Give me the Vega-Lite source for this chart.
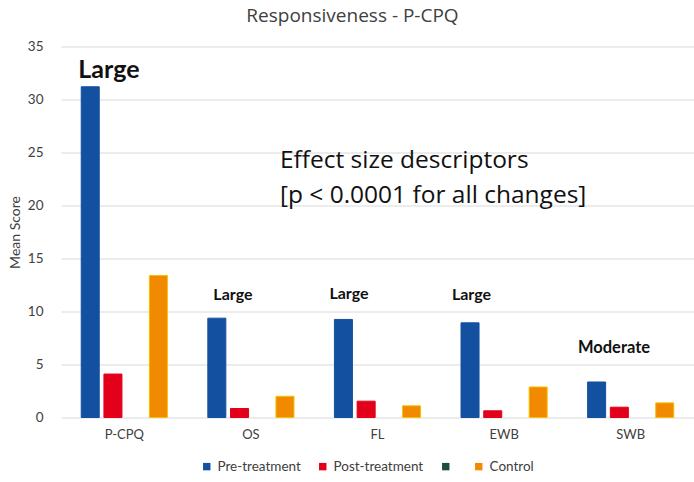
{
  "$schema": "https://vega.github.io/schema/vega-lite/v6.json",
  "width": 633,
  "height": 371,
  "autosize": {"type": "none"},
  "padding": {"left": 61, "top": 46.5, "right": 0, "bottom": 64.5},
  "background": "white",
  "config": {"font": "Lato", "view": {"stroke": null}},
  "title": {"text": "Responsiveness - P-CPQ", "font": "Open Sans", "fontSize": 19, "fontWeight": "normal", "color": "#404040", "anchor": "middle", "baseline": "alphabetic", "offset": -1, "dx": -25},
  "layer": [
    {
      "data": {"values": [
        {"cat": "P-CPQ", "series": "Pre-treatment", "score": 31.2},
        {"cat": "P-CPQ", "series": "Post-treatment", "score": 4.1},
        {"cat": "P-CPQ", "series": "Control", "score": 13.4},
        {"cat": "OS", "series": "Pre-treatment", "score": 9.37},
        {"cat": "OS", "series": "Post-treatment", "score": 0.85},
        {"cat": "OS", "series": "Control", "score": 2.0},
        {"cat": "FL", "series": "Pre-treatment", "score": 9.25},
        {"cat": "FL", "series": "Post-treatment", "score": 1.54},
        {"cat": "FL", "series": "Control", "score": 1.1},
        {"cat": "EWB", "series": "Pre-treatment", "score": 8.93},
        {"cat": "EWB", "series": "Post-treatment", "score": 0.63},
        {"cat": "EWB", "series": "Control", "score": 2.88},
        {"cat": "SWB", "series": "Pre-treatment", "score": 3.35},
        {"cat": "SWB", "series": "Post-treatment", "score": 0.97},
        {"cat": "SWB", "series": "Control", "score": 1.38}
      ]},
      "mark": {"type": "bar", "strokeWidth": 1},
      "encoding": {
        "x": {"field": "cat", "type": "nominal", "sort": ["P-CPQ", "OS", "FL", "EWB", "SWB"],
              "scale": {"domain": ["P-CPQ", "OS", "FL", "EWB", "SWB"], "paddingInner": 0.28, "paddingOuter": 0.14},
              "axis": {"title": null, "labelAngle": 0, "ticks": false, "domain": false, "labelFontSize": 13, "labelColor": "#404040", "labelPadding": 11}},
        "xOffset": {"field": "series", "type": "nominal",
                    "scale": {"domain": ["Pre-treatment", "Post-treatment", " ", "Control"], "paddingInner": 0.207, "paddingOuter": 0.11}},
        "y": {"field": "score", "type": "quantitative",
              "scale": {"domain": [0, 35], "nice": false},
              "axis": {"title": "Mean Score", "titleFontSize": 14, "titleFontWeight": "normal", "titleColor": "#404040", "titlePadding": 5,
                       "values": [0, 5, 10, 15, 20, 25, 30, 35], "domain": false, "ticks": false, "gridColor": "#d9d9d9",
                       "labelFontSize": 13.5, "labelColor": "#404040", "labelPadding": 18}},
        "color": {"field": "series", "type": "nominal",
                  "scale": {"domain": ["Pre-treatment", "Post-treatment", " ", "Control"], "range": ["#1450a0", "#e2001a", "#1d4d3f", "#f18a00"]},
                  "legend": {"orient": "none", "legendX": 139, "legendY": 413, "direction": "horizontal", "title": null,
                             "symbolType": "square", "symbolSize": 55, "symbolStrokeWidth": 0, "labelFontSize": 13.5, "labelColor": "#404040",
                             "columnPadding": 15, "labelOffset": 4}},
        "stroke": {"field": "series", "type": "nominal",
                   "scale": {"domain": ["Pre-treatment", "Post-treatment", " ", "Control"], "range": ["#1450a0", "#e2001a", "#1d4d3f", "#f5c000"]},
                   "legend": null}
      }
    },
    {
      "data": {"values": [{"cat": "P-CPQ", "score": 32.0, "label": "Large"}]},
      "mark": {"type": "text", "align": "left", "baseline": "alphabetic", "fontSize": 25, "fontWeight": "bold", "color": "#111", "dx": -46},
      "encoding": {"x": {"field": "cat", "type": "nominal", "sort": ["P-CPQ", "OS", "FL", "EWB", "SWB"]}, "y": {"field": "score", "type": "quantitative"}, "text": {"field": "label"}}
    },
    {
      "data": {"values": [{"cat": "OS", "score": 11.05, "label": "Large"}]},
      "mark": {"type": "text", "align": "center", "baseline": "alphabetic", "fontSize": 16, "fontWeight": "bold", "color": "#111", "dx": -18},
      "encoding": {"x": {"field": "cat", "type": "nominal", "sort": ["P-CPQ", "OS", "FL", "EWB", "SWB"]}, "y": {"field": "score", "type": "quantitative"}, "text": {"field": "label"}}
    },
    {
      "data": {"values": [{"cat": "FL", "score": 11.2, "label": "Large"}]},
      "mark": {"type": "text", "align": "center", "baseline": "alphabetic", "fontSize": 16, "fontWeight": "bold", "color": "#111", "dx": -28.5},
      "encoding": {"x": {"field": "cat", "type": "nominal", "sort": ["P-CPQ", "OS", "FL", "EWB", "SWB"]}, "y": {"field": "score", "type": "quantitative"}, "text": {"field": "label"}}
    },
    {
      "data": {"values": [{"cat": "EWB", "score": 11.1, "label": "Large"}]},
      "mark": {"type": "text", "align": "center", "baseline": "alphabetic", "fontSize": 16, "fontWeight": "bold", "color": "#111", "dx": -32.6},
      "encoding": {"x": {"field": "cat", "type": "nominal", "sort": ["P-CPQ", "OS", "FL", "EWB", "SWB"]}, "y": {"field": "score", "type": "quantitative"}, "text": {"field": "label"}}
    },
    {
      "data": {"values": [{"cat": "SWB", "score": 6.08, "label": "Moderate"}]},
      "mark": {"type": "text", "align": "center", "baseline": "alphabetic", "fontSize": 16.5, "fontWeight": "bold", "color": "#111", "dx": -16.7},
      "encoding": {"x": {"field": "cat", "type": "nominal", "sort": ["P-CPQ", "OS", "FL", "EWB", "SWB"]}, "y": {"field": "score", "type": "quantitative"}, "text": {"field": "label"}}
    },
    {
      "data": {"values": [
        {"cat": "OS", "score": 23.54, "label": "Effect size descriptors"},
        {"cat": "OS", "score": 20.24, "label": "[p < 0.0001 for all changes]"}
      ]},
      "mark": {"type": "text", "align": "left", "baseline": "alphabetic", "font": "Open Sans", "fontSize": 24.5, "fontWeight": "normal", "color": "#111", "dx": 29},
      "encoding": {"x": {"field": "cat", "type": "nominal", "sort": ["P-CPQ", "OS", "FL", "EWB", "SWB"]}, "y": {"field": "score", "type": "quantitative"}, "text": {"field": "label"}}
    }
  ]
}
